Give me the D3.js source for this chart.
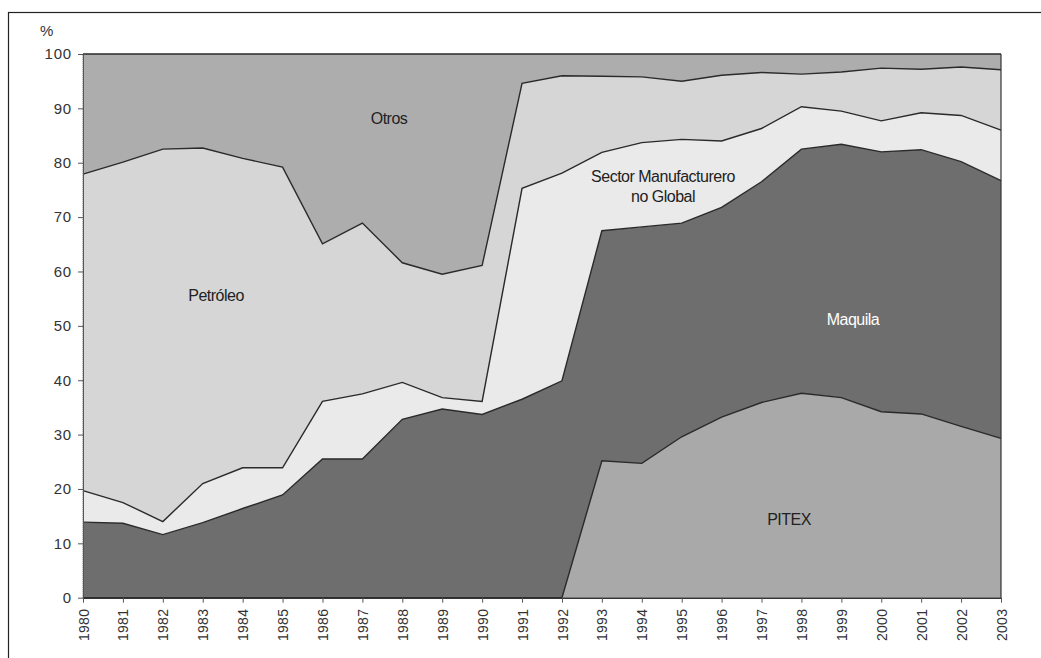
<!DOCTYPE html>
<html><head><meta charset="utf-8">
<script src="https://cdn.jsdelivr.net/npm/d3@7"></script>
<style>body{margin:0;background:#fff;} svg{display:block;}</style>
</head><body>
<svg id="c" width="1041" height="658"></svg>
<script>
const years = [1980,1981,1982,1983,1984,1985,1986,1987,1988,1989,1990,1991,1992,1993,1994,1995,1996,1997,1998,1999,2000,2001,2002,2003];
const pitex = [0,0,0,0,0,0,0,0,0,0,0,0,0,25.2,24.7,29.6,33.2,35.9,37.6,36.8,34.2,33.8,31.5,29.3];
const maquila = [13.9,13.7,11.6,13.8,16.4,18.9,25.5,25.5,32.8,34.7,33.7,36.5,39.9,42.3,43.5,39.3,38.6,40.6,44.9,46.6,47.8,48.6,48.7,47.4];
const sector = [5.8,3.8,2.4,7.2,7.5,5.0,10.6,12.0,6.8,2.1,2.4,38.8,38.2,14.4,15.5,15.4,12.2,9.8,7.8,6.1,5.7,6.8,8.5,9.3];
const petroleo = [58.2,62.6,68.5,61.7,56.9,55.3,29.0,31.4,22.0,22.7,25.0,19.3,17.9,14.0,12.1,10.7,12.1,10.3,6.0,7.2,9.7,8.0,8.9,11.1];
const otros = [22.1,19.9,17.5,17.3,19.2,20.8,34.9,31.1,38.4,40.5,38.9,5.4,4.0,4.1,4.2,5.0,3.9,3.4,3.7,3.3,2.6,2.8,2.4,2.9];
const seriesKeys = ["PITEX","Maquila","Sector","Petroleo","Otros"];
const seriesColors = ["#a9a9a9","#6e6e6e","#eaeaea","#d6d6d6","#adadad"];
const yTicks = [0,10,20,30,40,50,60,70,80,90,100];

const table = years.map((y,i)=>({year:y,PITEX:pitex[i],Maquila:maquila[i],Sector:sector[i],Petroleo:petroleo[i],Otros:otros[i]}));
const FONT = "Liberation Sans, Arial, sans-serif";

const svg = d3.select("#c");
// frame
svg.append("rect").attr("x",8.5).attr("y",12.5).attr("width",1100).attr("height",700)
  .attr("fill","none").attr("stroke","#222").attr("stroke-width",1.2);

const x = d3.scaleLinear().domain([1980,2003]).range([83,1001]);
const y = d3.scaleLinear().domain([0,100]).range([597.7,54]);

const stack = d3.stack().keys(seriesKeys);
const layers = stack(table);
const area = d3.area().x(d=>x(d.data.year)).y0(d=>y(d[0])).y1(d=>y(d[1]));
const line = d3.line().x(d=>x(d.data.year)).y(d=>y(d[1]));

svg.append("g").selectAll("path").data(layers).join("path")
  .attr("d",area).attr("fill",(d,i)=>seriesColors[i]).attr("stroke","none");

svg.append("g").selectAll("path").data(layers).join("path")
  .attr("d",line).attr("fill","none").attr("stroke","#2a2a2a").attr("stroke-width",1.4);

// right edge and left edge
svg.append("line").attr("x1",x(2003)).attr("x2",x(2003)).attr("y1",y(0)).attr("y2",y(100))
  .attr("stroke","#333").attr("stroke-width",1.2);
svg.append("line").attr("x1",x(1980)).attr("x2",x(1980)).attr("y1",y(0)).attr("y2",y(100))
  .attr("stroke","#444").attr("stroke-width",1).attr("stroke-dasharray","1,1");

// axes
const yAxis = d3.axisLeft(y).tickValues(yTicks).tickSize(5).tickSizeOuter(0).tickPadding(6);
const gy = svg.append("g").attr("transform",`translate(${x(1980)},0)`).call(yAxis);
gy.select(".domain").attr("stroke","#555");
gy.selectAll(".tick line").attr("stroke","#555");
gy.selectAll("text").attr("font-family",FONT).attr("font-size",15).attr("letter-spacing","0.8").attr("fill","#333");

const xAxis = d3.axisBottom(x).tickValues(years).tickFormat(d3.format("d")).tickSize(5).tickSizeOuter(0);
const gx = svg.append("g").attr("transform",`translate(0,${y(0)})`).call(xAxis);
gx.select(".domain").attr("stroke","#333").attr("stroke-width",1.5);
gx.selectAll(".tick line").attr("stroke","#555");
gx.selectAll("text").attr("font-family",FONT).attr("font-size",14).attr("letter-spacing","0.3").attr("fill","#333")
  .attr("transform","rotate(-90)").attr("text-anchor","end").attr("dx","-11").attr("dy","0.36em").attr("x",0).attr("y",0);

svg.append("text").attr("x",40).attr("y",36).text("%")
  .attr("font-family",FONT).attr("font-size",15).attr("fill","#333");

// labels
const lab = (t,xx,yy,col)=>svg.append("text").attr("x",xx).attr("y",yy).text(t)
  .attr("font-family",FONT).attr("font-size",16).attr("fill",col)
  .attr("text-anchor","middle").attr("letter-spacing","-0.5");
lab("Otros",389,124,"#222");
lab("Petróleo",216,301,"#222");
lab("Sector Manufacturero",663,182,"#222");
lab("no Global",663,202,"#222");
lab("Maquila",853,325,"#fff");
lab("PITEX",789,525,"#222");
</script>
</body></html>
